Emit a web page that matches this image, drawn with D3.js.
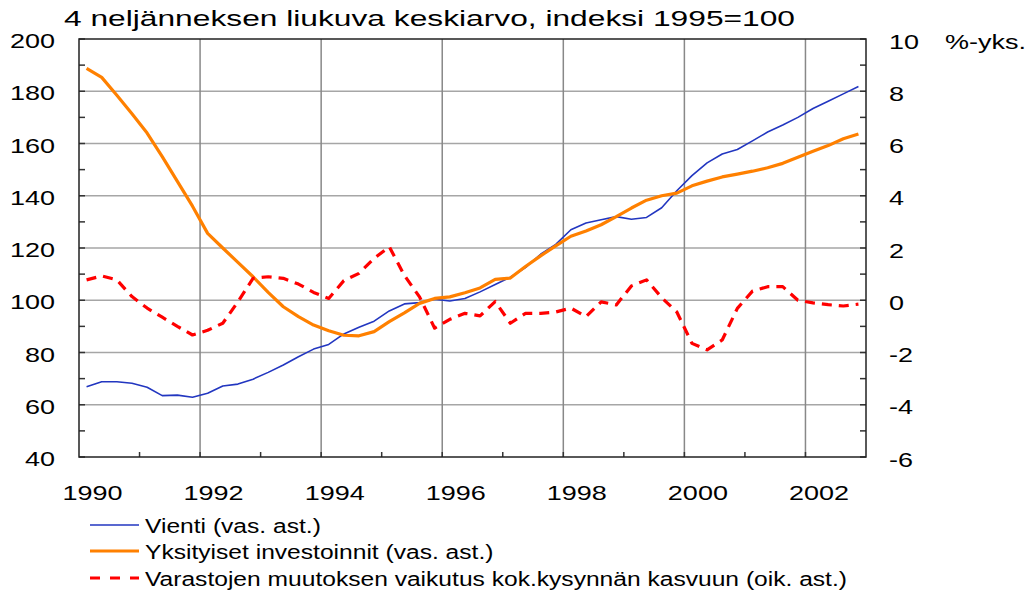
<!DOCTYPE html>
<html lang="fi">
<head>
<meta charset="UTF-8">
<title>Vienti ja investoinnit</title>
<script src="https://cdn.jsdelivr.net/npm/d3@7"></script>
<style>
  body { margin: 0; background: #fff; }
  text { font-family: "Liberation Sans", Arial, sans-serif; fill: #000; }
</style>
</head>
<body>
<div id="chart"></div>
<script>

// quarterly data 1990Q1 - 2002Q4
let vienti = [66.9, 68.8, 68.8, 68.2, 66.7, 63.5, 63.7, 62.9, 64.4, 67.2, 67.9, 69.8, 72.4,
              75.2, 78.4, 81.3, 83.1, 87.1, 89.7, 92.0, 95.9, 98.6, 99.1, 100.4, 99.7, 100.7,
              103.2, 106.0, 108.8, 112.5, 117.6, 121.4, 127.0, 129.6, 130.8, 132.0, 131.0, 131.7,
              135.4, 141.9, 147.7, 152.6, 156.0, 157.7, 161.0, 164.4, 167.1, 170.0, 173.4, 176.2,
              179.0, 181.8];
let investoinnit = [188.8, 185.3, 178.5, 171.4, 164.0, 155.0, 145.5, 136.0, 125.6, 120.0, 114.5,
                    109.0, 103.0, 97.5, 93.7, 90.5, 88.3, 86.6, 86.4, 88.0, 91.8, 95.2, 98.8, 100.7,
                    101.3, 102.9, 104.7, 108.0, 108.5, 112.9, 117.0, 120.8, 124.5, 126.5, 128.9,
                    132.0, 135.3, 138.3, 140.0, 141.0, 143.8, 145.6, 147.2, 148.3, 149.4, 150.7,
                    152.4, 154.7, 157.0, 159.2, 161.8, 163.6];
let varastot = [0.78, 0.93, 0.78, 0.14, -0.30, -0.65, -1.00, -1.33, -1.15, -0.88, -0.06, 0.84,
                0.90, 0.84, 0.62, 0.30, 0.07, 0.75, 1.03, 1.60, 2.05, 0.95, 0.13, -1.07, -0.73,
                -0.50, -0.60, -0.05, -0.88, -0.50, -0.50, -0.45, -0.30, -0.63, -0.06, -0.18, 0.55,
                0.78, 0.10, -0.45, -1.65, -1.90, -1.52, -0.31, 0.35, 0.52, 0.52, 0.00, -0.10,
                -0.17, -0.22, -0.15];

let yearLabels = [1990, 1992, 1994, 1996, 1998, 2000, 2002];
let leftTicks = [40, 60, 80, 100, 120, 140, 160, 180, 200];
let rightTicks = [-6, -4, -2, 0, 2, 4, 6, 8, 10];
let legendLabels = ["Vienti (vas. ast.)", "Yksityiset investoinnit (vas. ast.)",
                    "Varastojen muutoksen vaikutus kok.kysynnän kasvuun (oik. ast.)"];
let title = "4 neljänneksen liukuva keskiarvo, indeksi 1995=100";
let rightUnit = "%-yks.";
let startYear = 1990;

let w = 1035, h = 597;
let plotL = 79, plotR = 866, plotT = 39, plotB = 457;

let svg = d3.select("#chart").append("svg")
    .attr("width", w)
    .attr("height", h);

let x = d3.scaleLinear().domain([1990, 2003]).range([plotL, plotR]);
let yL = d3.scaleLinear().domain([40, 200]).range([plotB, plotT]);
let yR = d3.scaleLinear().domain([-6, 10]).range([plotB, plotT]);

// quarter midpoints
function qx(i) { return x(startYear + (i + 0.5) / 4); }

// the original text is wide, so glyphs get stretched sideways
function label(px, py, str, size, sx, anchor) {
    return svg.append("text")
        .attr("transform", "translate(" + px + "," + py + ") scale(" + sx + ",1)")
        .attr("font-size", size)
        .attr("text-anchor", anchor || "start")
        .text(str);
}

// grid
svg.append("g").selectAll("line")
    .data(leftTicks.slice(1, -1))
    .enter().append("line")
    .attr("x1", plotL).attr("x2", plotR)
    .attr("y1", function(d){ return yL(d); })
    .attr("y2", function(d){ return yL(d); })
    .attr("stroke", "#a6a6a6")
    .attr("stroke-width", 1.5);

svg.append("g").selectAll("line")
    .data(yearLabels.slice(1))
    .enter().append("line")
    .attr("x1", function(d){ return x(d); })
    .attr("x2", function(d){ return x(d); })
    .attr("y1", plotT).attr("y2", plotB)
    .attr("stroke", "#888")
    .attr("stroke-width", 1.5);

// small inner ticks
let axisG = svg.append("g").attr("stroke", "#333").attr("stroke-width", 1.5);
axisG.selectAll(".tl")
    .data(d3.range(40, 201, 10))
    .enter().append("line")
    .attr("x1", plotL).attr("x2", plotL + 6)
    .attr("y1", function(d){ return yL(d); })
    .attr("y2", function(d){ return yL(d); });
axisG.selectAll(".tr")
    .data(d3.range(-6, 11, 1))
    .enter().append("line")
    .attr("x1", plotR - 6).attr("x2", plotR)
    .attr("y1", function(d){ return yR(d); })
    .attr("y2", function(d){ return yR(d); });
axisG.selectAll(".tb")
    .data(d3.range(1991, 2003, 1))
    .enter().append("line")
    .attr("x1", function(d){ return x(d); })
    .attr("x2", function(d){ return x(d); })
    .attr("y1", plotB).attr("y2", plotB - 5);

// lines
function drawLine(data, yScale, color, width, dash) {
    let line = d3.line()
        .x(function(d, i){ return qx(i); })
        .y(function(d){ return yScale(d); });
    let p = svg.append("path")
        .datum(data)
        .attr("d", line)
        .attr("fill", "none")
        .attr("stroke", color)
        .attr("stroke-width", width)
        .attr("stroke-linejoin", "round");
    if (dash) p.attr("stroke-dasharray", dash);
}

drawLine(vienti, yL, "#2236c0", 1.6);
drawLine(investoinnit, yL, "#ff8000", 3.2);
drawLine(varastot, yR, "#ff0000", 3.2, "10,7");

// frame
svg.append("rect")
    .attr("x", plotL).attr("y", plotT)
    .attr("width", plotR - plotL).attr("height", plotB - plotT)
    .attr("fill", "none")
    .attr("stroke", "#222")
    .attr("stroke-width", 1.5);

// tick labels
leftTicks.forEach(function(d){
    label(55, yL(d) + 9, d, 20, 1.35, "end");
});
rightTicks.forEach(function(d){
    label(889, yR(d) + 9.5, d, 20, 1.35, "start");
});
label(945, yR(10) + 9.5, rightUnit, 20, 1.35, "start");
yearLabels.forEach(function(d){
    label(x(d) + 13.5, 500, d, 20, 1.35, "middle");
});

label(64, 26, title, 22.5, 1.41, "start");

// legend
let legendY = [525, 551, 578];
let legendColors = ["#2236c0", "#ff8000", "#ff0000"];
let legendWidths = [1.6, 3.2, 3.2];
legendLabels.forEach(function(d, i){
    let l = svg.append("line")
        .attr("x1", 90).attr("x2", 139)
        .attr("y1", legendY[i]).attr("y2", legendY[i])
        .attr("stroke", legendColors[i])
        .attr("stroke-width", legendWidths[i]);
    if (i == 2) l.attr("stroke-dasharray", "10,10");
    label(145, legendY[i] + 8, d, 20, 1.23, "start");
});

</script>
</body>
</html>
